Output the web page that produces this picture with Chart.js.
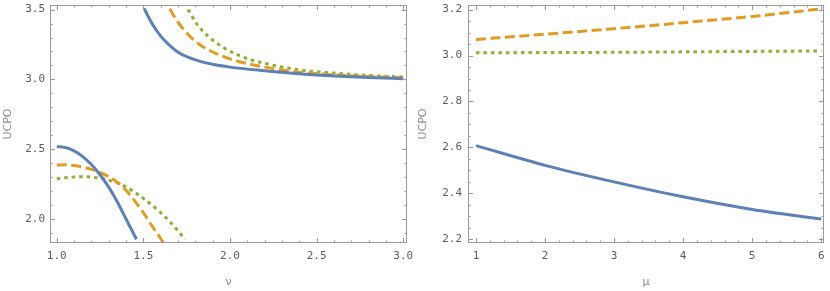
<!DOCTYPE html>
<html>
<head>
<meta charset="utf-8">
<script src="https://cdn.jsdelivr.net/npm/chart.js@4.4.0/dist/chart.umd.min.js"></script>
<style>
  html, body { margin: 0; padding: 0; background: #fff; }
  .panel { position: absolute; top: 0; width: 415px; height: 291px; }
  #left { left: 0; }
  #right { left: 415px; }
</style>
</head>
<body>
<div class="panel" id="left"><canvas id="chart-nu"></canvas></div>
<div class="panel" id="right"><canvas id="chart-mu"></canvas></div>
<script>
// Left panel: UCPO against nu (two branches per curve)
const nuBlueLow = [1.0, 1.05, 1.1, 1.15, 1.2, 1.25, 1.3, 1.35, 1.4, 1.46];
const ucpoBlueLow = [2.52, 2.512, 2.488, 2.447, 2.39, 2.317, 2.228, 2.122, 2.0, 1.855];
const nuOrangeLow = [1.0, 1.05, 1.1, 1.15, 1.2, 1.25, 1.3, 1.35, 1.4, 1.45, 1.5, 1.55, 1.6, 1.62];
const ucpoOrangeLow = [2.387, 2.388, 2.383, 2.372, 2.355, 2.333, 2.303, 2.262, 2.205, 2.13, 2.045, 1.95, 1.86, 1.82];
const nuGreenLow = [1.0, 1.05, 1.1, 1.15, 1.2, 1.25, 1.3, 1.35, 1.4, 1.5, 1.6, 1.65, 1.7, 1.74];
const ucpoGreenLow = [2.288, 2.296, 2.301, 2.303, 2.30, 2.292, 2.278, 2.258, 2.23, 2.148, 2.045, 1.985, 1.915, 1.855];

const nuBlueHigh = [1.504, 1.55, 1.6, 1.65, 1.7, 1.8, 1.9, 2.0, 2.2, 2.4, 2.6, 2.8, 3.0];
const ucpoBlueHigh = [3.51, 3.40, 3.31, 3.245, 3.195, 3.14, 3.108, 3.088, 3.062, 3.04, 3.025, 3.013, 3.005];
const nuOrangeHigh = [1.652, 1.7, 1.76, 1.83, 1.93, 2.04, 2.2, 2.4, 2.6, 2.8, 3.0];
const ucpoOrangeHigh = [3.505, 3.41, 3.32, 3.245, 3.18, 3.132, 3.088, 3.052, 3.033, 3.02, 3.012];
const nuGreenHigh = [1.758, 1.816, 1.883, 1.96, 2.036, 2.115, 2.2, 2.4, 2.6, 2.8, 3.0];
const ucpoGreenHigh = [3.50, 3.385, 3.30, 3.23, 3.18, 3.143, 3.115, 3.068, 3.045, 3.028, 3.017];

// Right panel: UCPO against mu
const mu = [1, 2, 3, 4, 5, 6];
const ucpoBlueMu = [2.608, 2.522, 2.45, 2.385, 2.33, 2.288];
const ucpoOrangeMu = [3.07, 3.093, 3.117, 3.143, 3.17, 3.203];
const ucpoGreenMu = [3.012, 3.013, 3.014, 3.016, 3.018, 3.02];

// Tick labels
const nuTicks = [1.0, 1.5, 2.0, 2.5, 3.0];
const ucpoNuTicks = [2.0, 2.5, 3.0, 3.5];
const muTicks = [1, 2, 3, 4, 5, 6];
const ucpoMuTicks = [2.2, 2.4, 2.6, 2.8, 3.0, 3.2];

const BLUE = '#5e81b5';
const ORANGE = '#e19c24';
const GREEN = '#8fb032';

function pairs(xs, ys) {
  return xs.map((x, i) => ({ x: x, y: ys[i] }));
}

function series(xs, ys, color, dash) {
  return {
    data: pairs(xs, ys),
    borderColor: color,
    borderWidth: 3,
    borderDash: dash,
    borderCapStyle: 'butt',
    pointRadius: 0,
    fill: false,
    cubicInterpolationMode: 'monotone'
  };
}

// Mathematica-like frame with inward ticks on all four sides
const frameTicks = {
  id: 'frameTicks',
  afterDraw(chart, args, opts) {
    const { ctx, chartArea: a, scales } = chart;
    ctx.save();
    ctx.strokeStyle = '#9a9a9a';
    ctx.lineWidth = 1;
    const mark = (scale, step, len) => {
      const first = Math.ceil(scale.min / step - 1e-6);
      const last = Math.floor(scale.max / step + 1e-6);
      for (let i = first; i <= last; i++) {
        const p = Math.round(scale.getPixelForValue(i * step)) + 0.5;
        ctx.beginPath();
        if (scale.isHorizontal()) {
          ctx.moveTo(p, a.bottom); ctx.lineTo(p, a.bottom - len);
          ctx.moveTo(p, a.top); ctx.lineTo(p, a.top + len);
        } else {
          ctx.moveTo(a.left, p); ctx.lineTo(a.left + len, p);
          ctx.moveTo(a.right, p); ctx.lineTo(a.right - len, p);
        }
        ctx.stroke();
      }
    };
    mark(scales.x, opts.xMinor, 2.5);
    mark(scales.x, opts.xMajor, 5);
    mark(scales.y, opts.yMinor, 2.5);
    mark(scales.y, opts.yMajor, 5);
    ctx.strokeRect(a.left + 0.5, a.top + 0.5, a.right - a.left - 1, a.bottom - a.top - 1);
    ctx.restore();
  }
};

const tickFont = { family: 'DejaVu Sans Mono', size: 11 };
const titleFont = { family: 'DejaVu Sans', size: 11 };

// keep the frame where it is: no extra room for edge labels
function noEdgePadding(s) {
  s.paddingTop = 0;
  s.paddingBottom = 0;
  s.paddingLeft = 0;
  s.paddingRight = 0;
}

function makeChart(id, datasets, o) {
  const ctx = document.getElementById(id).getContext('2d');
  return new Chart(ctx, {
    type: 'line',
    data: { datasets: datasets },
    plugins: [frameTicks],
    options: {
      responsive: true,
      maintainAspectRatio: false,
      animation: false,
      layout: { padding: { top: 5, right: o.padRight, bottom: 0, left: 0 } },
      plugins: {
        legend: { display: false },
        tooltip: { enabled: false },
        frameTicks: o.frame
      },
      scales: {
        x: {
          type: 'linear',
          min: o.xMin,
          max: o.xMax,
          afterBuildTicks: s => { s.ticks = o.xTicks.map(v => ({ value: v })); },
          afterFit: s => { s.height = 48; noEdgePadding(s); },
          grid: { display: false, drawTicks: false },
          border: { display: false },
          ticks: {
            autoSkip: false, maxRotation: 0, padding: 7,
            font: tickFont, color: '#5c5c5c',
            callback: o.xFormat
          },
          title: {
            display: true, text: o.xTitle, color: '#8a8a8a',
            font: titleFont, padding: { top: 0, bottom: 2 }
          }
        },
        y: {
          type: 'linear',
          min: o.yMin,
          max: o.yMax,
          afterBuildTicks: s => { s.ticks = o.yTicks.map(v => ({ value: v })); },
          afterFit: s => { s.width = o.yWidth; noEdgePadding(s); },
          grid: { display: false, drawTicks: false },
          border: { display: false },
          ticks: {
            autoSkip: false, padding: o.yPad,
            font: tickFont, color: '#5c5c5c',
            callback: v => v.toFixed(1)
          },
          title: {
            display: true, text: 'UCPO', color: '#8a8a8a',
            font: titleFont, padding: { top: 2, bottom: 0 }
          }
        }
      }
    }
  });
}

makeChart('chart-nu', [
  series(nuBlueLow, ucpoBlueLow, BLUE, []),
  series(nuBlueHigh, ucpoBlueHigh, BLUE, []),
  series(nuOrangeLow, ucpoOrangeLow, ORANGE, [10, 4.5]),
  series(nuOrangeHigh, ucpoOrangeHigh, ORANGE, [10, 4.5]),
  series(nuGreenLow, ucpoGreenLow, GREEN, [3.5, 4]),
  series(nuGreenHigh, ucpoGreenHigh, GREEN, [3.5, 4])
], {
  xMin: 0.961, xMax: 3.022, yMin: 1.828, yMax: 3.533,
  xTicks: nuTicks, yTicks: ucpoNuTicks,
  xFormat: v => v.toFixed(1), xTitle: 'ν',
  yWidth: 50, yPad: 5, padRight: 8,
  frame: { xMajor: 0.5, xMinor: 0.1, yMajor: 0.5, yMinor: 0.1 }
});

makeChart('chart-mu', [
  series(mu, ucpoBlueMu, BLUE, []),
  series(mu, ucpoOrangeMu, ORANGE, [10, 4.5]),
  series(mu, ucpoGreenMu, GREEN, [3.5, 4])
], {
  xMin: 0.885, xMax: 6.04, yMin: 2.184, yMax: 3.22,
  xTicks: muTicks, yTicks: ucpoMuTicks,
  xFormat: v => String(v), xTitle: 'μ',
  yWidth: 53, yPad: 6, padRight: 6,
  frame: { xMajor: 1, xMinor: 0.2, yMajor: 0.2, yMinor: 0.05 }
});
</script>
</body>
</html>
